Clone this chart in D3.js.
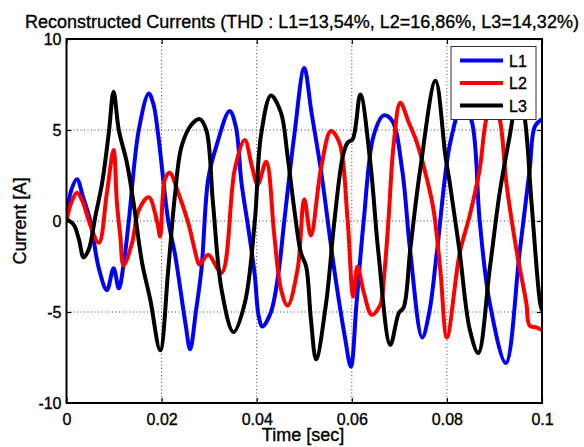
<!DOCTYPE html>
<html>
<head>
<meta charset="utf-8">
<script src="https://cdn.jsdelivr.net/npm/d3@7"></script>
<style>
  html, body { margin: 0; padding: 0; background: #fff; }
  svg { display: block; font-family: "Liberation Sans", Arial, sans-serif; }
  svg text { stroke: #000; stroke-width: 0.35px; }
</style>
</head>
<body>
<svg id="chart" width="584" height="447"></svg>
<script>
// Reconstructed phase currents, time in milliseconds, current in amperes
const l1Time = [0, 1.0, 2.2, 3.5, 5.0, 6.8, 8.5, 9.9, 11.0, 12.0, 13.1, 15.2, 17.3, 18.3, 19.3, 21.4, 22.8, 25.0, 26.0, 27.2, 28.4, 29.8, 31.5, 34.3, 35.6, 36.8, 38.3, 39.6, 40.4, 41.2, 43.0, 44.5, 45.8, 47.9, 50.0, 51.5, 53.5, 56.3, 58.5, 59.8, 61.0, 62.5, 64.6, 66.7, 68.5, 70.6, 72.3, 74.8, 76.3, 77.9, 80.7, 83.3, 85.2, 86.9, 89.0, 92.4, 95.3, 97.4, 98.5, 100];
const l1Current = [0.2, 1.7, 2.3, 1.3, 0, -2.6, -3.8, -2.6, -3.7, -2.4, 0, 5.0, 7.0, 6.4, 4.7, 0, -1.8, -5.6, -7.05, -5.0, -2.6, 2.3, 4.1, 6.05, 5.2, 2.1, -0.5, -3.0, -5.2, -5.8, -5.0, -3.0, 0, 4.7, 8.4, 6.0, 2.8, -2.65, -6.3, -8.0, -4.5, 0, 4.7, 5.8, 5.5, 2.8, -1.7, -6.4, -5.0, -1.7, 4.3, 6.4, 5.5, 0, -4.5, -7.8, -1.7, 2.8, 5.2, 5.6];

const l2Time = [0, 1.0, 2.2, 3.5, 4.7, 6.8, 8.5, 9.9, 10.6, 11.3, 12.0, 13.8, 15.2, 17.3, 19.1, 19.7, 20.7, 21.7, 23.5, 25.6, 27.7, 28.0, 29.8, 32.6, 35.4, 37.5, 39.0, 40.2, 42.0, 43.7, 45.1, 46.5, 48.6, 50.0, 51.4, 53.5, 55.6, 57.4, 59.1, 60.3, 61.2, 62.5, 64.2, 66.0, 66.8, 67.7, 68.8, 70.2, 72.0, 73.7, 75.8, 77.2, 78.6, 80.0, 82.7, 84.8, 86.9, 88.3, 89.7, 91.1, 92.5, 94.6, 96.7, 97.4, 98.8, 100];
const l2Current = [0, 1.0, 1.55, 1.0, 0, -1.2, 1.55, 3.9, 1.0, -0.8, -2.45, -1.2, 0.6, 1.3, -0.1, -0.85, 2.3, 2.65, 1.55, -0.1, -2.3, -2.4, -1.85, -2.85, 2.85, 4.45, 3.0, 2.0, 3.25, -0.8, -3.75, -4.65, -2.65, 1.2, -0.8, 2.85, 4.95, 4.3, 0.1, -4.15, -2.5, -3.9, -5.15, -4.6, -3.0, 0, 4.2, 6.5, 5.4, 4.3, 2.3, 0.6, -2.65, -6.4, -1.75, 0.3, 2.85, 5.6, 6.5, 5.6, 2.1, -1.55, -4.5, -5.75, -5.85, -6.0];

const l3Time = [0, 1.5, 2.6, 3.6, 4.7, 6.1, 7.5, 8.9, 9.9, 11.0, 12.7, 14.1, 15.9, 17.6, 19.7, 21.4, 22.8, 24.2, 26.3, 28.0, 29.4, 30.8, 32.6, 35.1, 37.5, 39.6, 40.9, 43.0, 45.1, 46.5, 47.9, 49.3, 50.4, 51.4, 52.5, 54.6, 56.3, 58.1, 59.1, 60.2, 61.8, 63.9, 65.6, 68.1, 69.9, 70.9, 72.3, 74.4, 77.6, 79.7, 80.6, 82.7, 84.8, 86.6, 89.0, 91.1, 93.2, 95.1, 96.4, 97.8, 99.6, 100];
const l3Current = [0.1, -0.2, -1.0, -2.0, -1.55, 0.3, 2.1, 4.85, 7.1, 5.0, 3.2, 1.0, -2.3, -4.3, -7.1, -2.65, 1.4, 4.1, 5.3, 5.6, 5.0, 1.0, -3.75, -6.1, -4.5, 0, 4.7, 6.9, 5.95, 3.55, 0.65, -1.75, -2.5, -5.4, -7.6, -4.5, -0.1, 3.55, 4.3, 4.5, 6.95, 3.2, -1.75, -6.8, -5.05, -4.75, -1.55, 2.85, 7.7, 3.55, 2.1, -1.75, -5.95, -7.25, -2.65, 1.55, 4.65, 7.2, 5.6, 1.0, -4.5, -4.9];

const seriesNames = ["L1", "L2", "L3"];
const seriesColors = ["#0000ff", "#ff0000", "#000000"];
const xTicks = [0, 0.02, 0.04, 0.06, 0.08, 0.1];
const xTickLabels = ["0", "0.02", "0.04", "0.06", "0.08", "0.1"];
const yTicks = [-10, -5, 0, 5, 10];
const yTickLabels = ["-10", "-5", "0", "5", "10"];
const titleText = "Reconstructed Currents (THD : L1=13,54%, L2=16,86%, L3=14,32%)";

const series = [
  { name: seriesNames[0], color: seriesColors[0], t: l1Time, v: l1Current },
  { name: seriesNames[1], color: seriesColors[1], t: l2Time, v: l2Current },
  { name: seriesNames[2], color: seriesColors[2], t: l3Time, v: l3Current }
];

const svg = d3.select("#chart");
const plot = { left: 66.5, right: 542, top: 39, bottom: 403 };

const x = d3.scaleLinear().domain([0, 0.1]).range([plot.left, plot.right]);
const y = d3.scaleLinear().domain([-10, 10]).range([plot.bottom, plot.top]);

// dotted grid
const grid = svg.append("g");
grid.selectAll("line.gx").data(xTicks.slice(1, -1)).join("line")
  .attr("x1", d => x(d)).attr("x2", d => x(d))
  .attr("y1", plot.top).attr("y2", plot.bottom)
  .attr("stroke", "#444").attr("stroke-width", 1).attr("stroke-dasharray", "1,2.5");
grid.selectAll("line.gy").data(yTicks.slice(1, -1)).join("line")
  .attr("x1", plot.left).attr("x2", plot.right)
  .attr("y1", d => y(d)).attr("y2", d => y(d))
  .attr("stroke", "#444").attr("stroke-width", 1).attr("stroke-dasharray", "1,2.5");

// curves
const line = d3.line()
  .x(d => x(d[0] / 1000))
  .y(d => y(d[1]))
  .curve(d3.curveCatmullRom.alpha(0.5));

svg.append("defs").append("clipPath").attr("id", "plotClip")
  .append("rect").attr("x", plot.left).attr("y", plot.top)
  .attr("width", plot.right - plot.left).attr("height", plot.bottom - plot.top);

const curves = svg.append("g").attr("clip-path", "url(#plotClip)");
series.forEach(s => {
  curves.append("path")
    .attr("d", line(s.t.map((t, i) => [t, s.v[i]])))
    .attr("fill", "none")
    .attr("stroke", s.color)
    .attr("stroke-width", 4)
    .attr("stroke-linejoin", "round")
    .attr("stroke-linecap", "round");
});

// axes with inward ticks
const xAxis = svg.append("g").attr("transform", `translate(0,${plot.bottom})`)
  .call(d3.axisBottom(x).tickValues(xTicks).tickFormat((d, i) => xTickLabels[i]).tickSizeInner(-5).tickSizeOuter(0).tickPadding(11));
const xAxisTop = svg.append("g").attr("transform", `translate(0,${plot.top})`)
  .call(d3.axisTop(x).tickValues(xTicks).tickFormat("").tickSizeInner(-5).tickSizeOuter(0));
const yAxis = svg.append("g").attr("transform", `translate(${plot.left},0)`)
  .call(d3.axisLeft(y).tickValues(yTicks).tickFormat((d, i) => yTickLabels[i]).tickSizeInner(-5).tickSizeOuter(0).tickPadding(5));
const yAxisRight = svg.append("g").attr("transform", `translate(${plot.right},0)`)
  .call(d3.axisRight(y).tickValues(yTicks).tickFormat("").tickSizeInner(-5).tickSizeOuter(0));

[xAxis, xAxisTop, yAxis, yAxisRight].forEach(g => {
  g.select(".domain").remove();
  g.selectAll(".tick line").attr("stroke", "#000").attr("stroke-width", 1.2);
  g.selectAll(".tick text").attr("fill", "#000").attr("font-size", 16)
    .attr("font-family", "'Liberation Sans', Arial, sans-serif");
});
xAxis.selectAll(".tick text").attr("dy", "0.71em");

// axes box
svg.append("rect")
  .attr("x", plot.left).attr("y", plot.top)
  .attr("width", plot.right - plot.left).attr("height", plot.bottom - plot.top)
  .attr("fill", "none").attr("stroke", "#000").attr("stroke-width", 2);

// title and axis labels
svg.append("text").attr("x", 302).attr("y", 28).attr("text-anchor", "middle")
  .attr("font-size", 18).attr("fill", "#000").text(titleText);
svg.append("text").attr("x", 303).attr("y", 441).attr("text-anchor", "middle")
  .attr("font-size", 18).attr("fill", "#000").text("Time [sec]");
svg.append("text").attr("transform", "translate(26,221) rotate(-90)").attr("text-anchor", "middle")
  .attr("font-size", 18).attr("fill", "#000").text("Current [A]");

// legend
const legend = svg.append("g");
legend.append("rect").attr("x", 451).attr("y", 46.5).attr("width", 85).attr("height", 73)
  .attr("fill", "#fff").attr("stroke", "#333").attr("stroke-width", 1);
const ly = d3.scalePoint().domain(seriesNames).range([60.5, 105.5]);
series.forEach(s => {
  legend.append("line").attr("x1", 460).attr("x2", 503)
    .attr("y1", ly(s.name)).attr("y2", ly(s.name))
    .attr("stroke", s.color).attr("stroke-width", 4);
  legend.append("text").attr("x", 509).attr("y", ly(s.name) + 6)
    .attr("font-size", 16).attr("fill", "#000").text(s.name);
});
</script>
</body>
</html>
